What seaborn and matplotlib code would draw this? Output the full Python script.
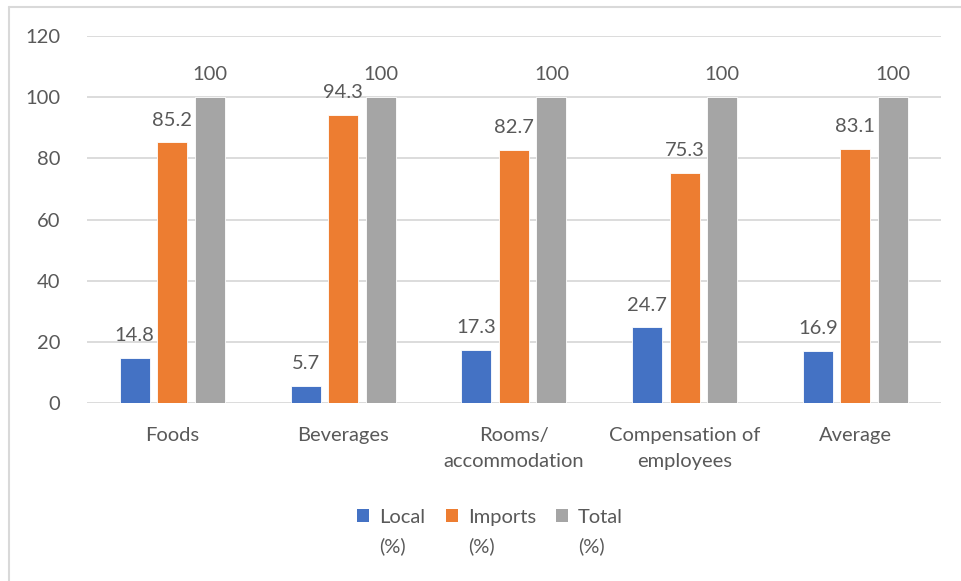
import matplotlib
matplotlib.use("Agg")
import matplotlib.pyplot as plt
import seaborn as sns
import pandas as pd
from matplotlib.patches import Patch
from matplotlib.lines import Line2D

categories = ["Foods", "Beverages", "Rooms/\naccommodation", "Compensation of\nemployees", "Average"]
local = [14.8, 5.7, 17.3, 24.7, 16.9]
imports = [85.2, 94.3, 82.7, 75.3, 83.1]
total = [100, 100, 100, 100, 100]
series = ["Local", "Imports", "Total"]
colors = ["#4472C4", "#ED7D31", "#A5A5A5"]
yticks = [0, 20, 40, 60, 80, 100, 120]

rows = []
for name, vals in zip(series, [local, imports, total]):
    for c, v in zip(categories, vals):
        rows.append({"category": c, "series": name, "value": v})
df = pd.DataFrame(rows)

sns.set_style("white")
plt.rcParams["font.family"] = ["Lato", "DejaVu Sans"]
txt = "#595959"
fs = 14.5

fig = plt.figure(figsize=(9.61, 5.81), dpi=100)
ax = fig.add_axes([0.0905, 0.3064, 0.8885, 0.6316])
sns.barplot(data=df, x="category", y="value", hue="series", order=categories,
            hue_order=series, palette=colors, width=0.66, gap=0.2,
            saturation=1, ax=ax, legend=False, edgecolor="white", linewidth=0.6)

for cont in ax.containers:
    ax.bar_label(cont, labels=[f"{b.get_height():g}" for b in cont], padding=10,
                 fontsize=fs, color=txt)

ax.set_ylim(0, 120)
ax.set_yticks(yticks)
ax.set_xlim(-0.5, len(categories) - 0.5)
ax.yaxis.grid(True, color="#D9D9D9", linewidth=1.3)
ax.set_axisbelow(True)
for s in ax.spines.values():
    s.set_visible(False)
ax.tick_params(axis="both", length=0, labelsize=fs, labelcolor=txt)
ax.tick_params(axis="y", pad=19)
ax.tick_params(axis="x", pad=17)
for lab in ax.get_xticklabels():
    lab.set_linespacing(1.7)
ax.set_xlabel("")
ax.set_ylabel("")

handles = [Patch(facecolor=c, edgecolor="none") for c in colors]
leg = fig.legend(handles, series, loc="center", bbox_to_anchor=(0.51, 0.11),
                 ncol=3, frameon=False, fontsize=fs, labelcolor=txt,
                 handlelength=0.6, handleheight=0.6, handletextpad=0.5,
                 columnspacing=1.0)
fig.canvas.draw()
inv = fig.transFigure.inverted()
for t in leg.get_texts():
    bb = t.get_window_extent()
    x0, y0 = inv.transform((bb.x0, bb.y0))
    fig.text(x0, y0 - 0.02, "(%)", ha="left", va="top", fontsize=fs, color=txt)

# outer chart frame (left and top edges)
fig.add_artist(Line2D([0.0095, 0.0095], [0, 0.988], transform=fig.transFigure,
                      color="#D9D9D9", linewidth=1.5))
fig.add_artist(Line2D([0.0095, 1.0], [0.988, 0.988], transform=fig.transFigure,
                      color="#D9D9D9", linewidth=1.5))

fig.savefig("out.png", dpi=100)
